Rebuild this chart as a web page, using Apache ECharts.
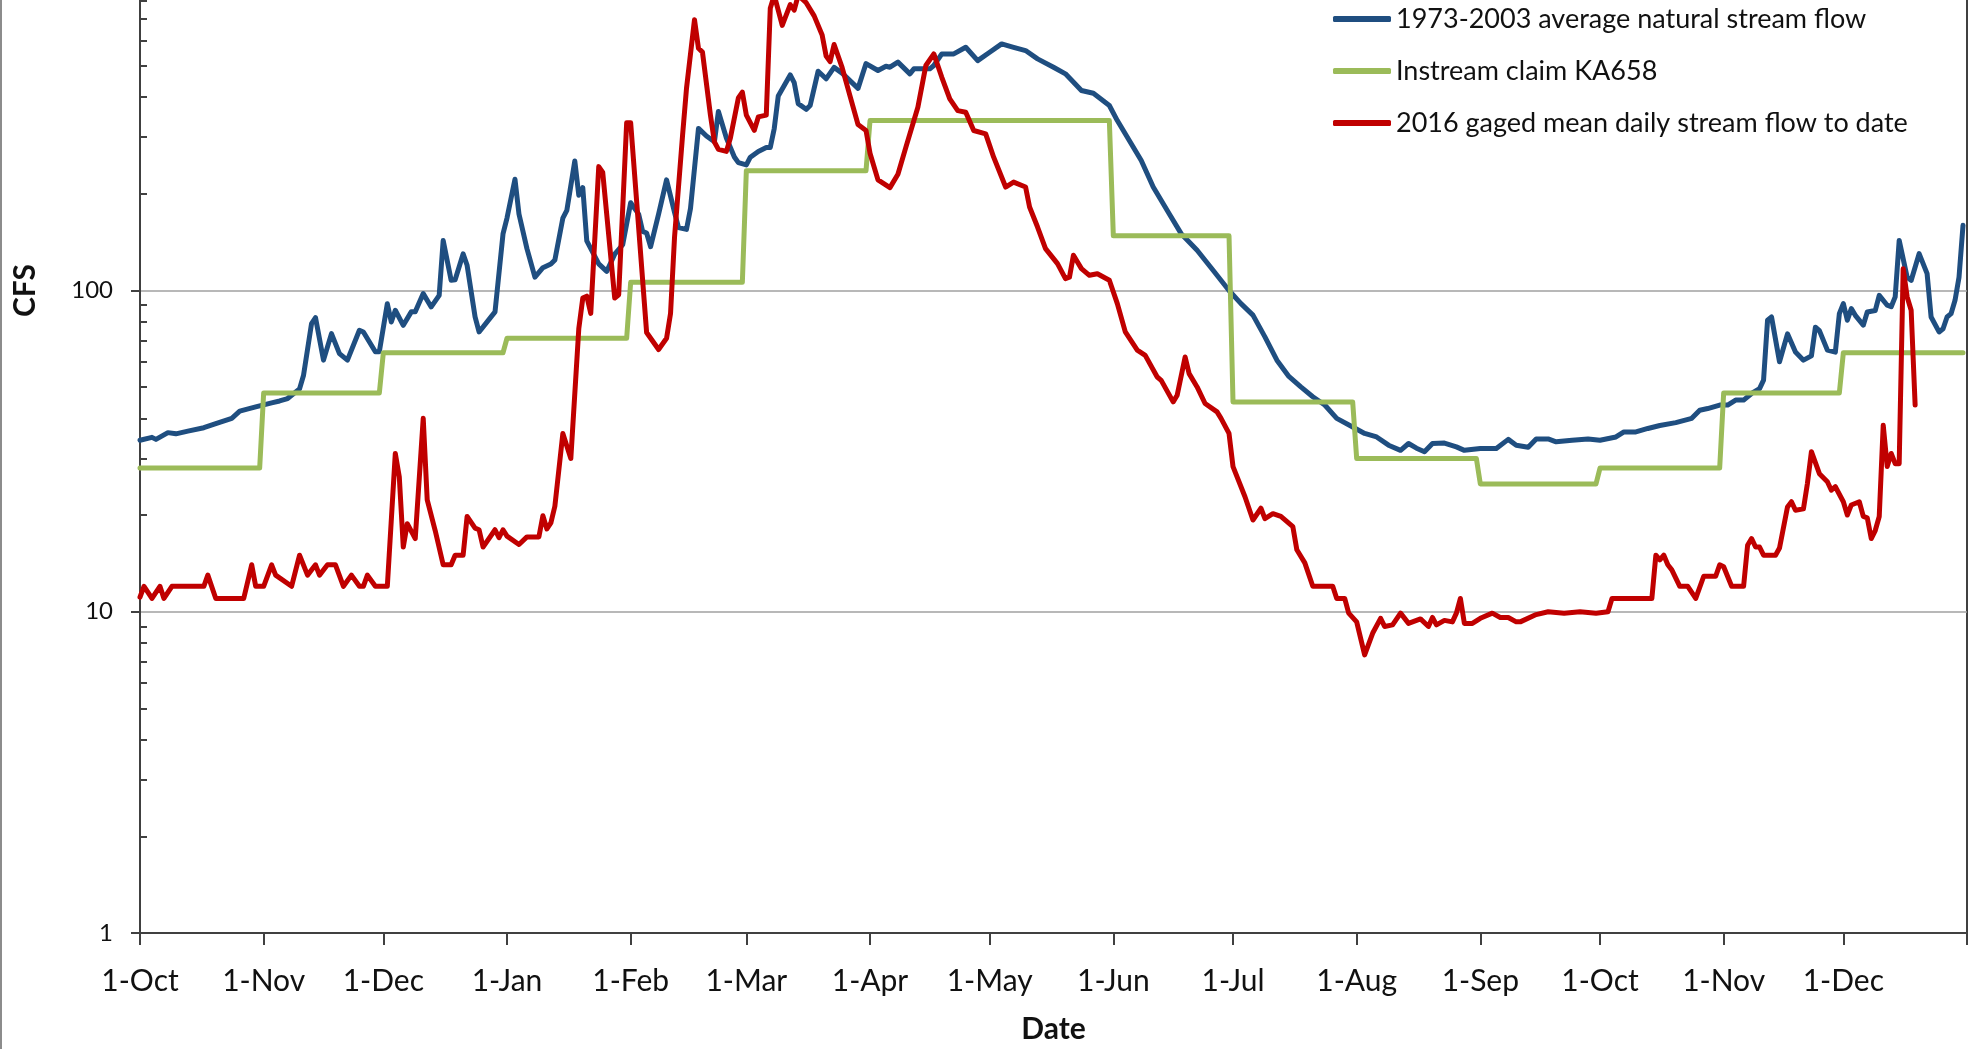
<!DOCTYPE html>
<html>
<head>
<meta charset="utf-8">
<script src="https://cdn.jsdelivr.net/npm/echarts@6/dist/echarts.min.js"></script>
<style>
  html, body { margin: 0; padding: 0; background: #ffffff; }
  #wrap { width: 1970px; height: 1049px; background: #ffffff; box-shadow: inset 2px 0 0 #8c8c8c; }
  #chart { width: 1970px; height: 1049px; }
</style>
</head>
<body>
<div id="wrap"><div id="chart"></div></div>
<script>
// Day offsets counted from 1-Oct-2015
const monthStartDays = [0, 31, 61, 92, 123, 152, 183, 213, 244, 274, 305, 336, 366, 397, 427, 458];
const monthLabels = ['1-Oct', '1-Nov', '1-Dec', '1-Jan', '1-Feb', '1-Mar', '1-Apr', '1-May', '1-Jun', '1-Jul', '1-Aug', '1-Sep', '1-Oct', '1-Nov', '1-Dec', '1-Jan'];
const minorTickMultipliers = [2, 3, 4, 5, 6, 7, 8, 9];
const decades = [1, 10, 100, 1000];

const seriesNames = ['1973-2003 average natural stream flow', 'Instream claim KA658', '2016 gaged mean daily stream flow to date'];

// 1973-2003 average natural stream flow (CFS)
const blueDays = [0,3,4,7,9,12,16,19,23,25,29,33,35,37,40,41,43,44,46,48,50,52,55,56,59,60,62,63,64,66,68,69,71,73,75,76,78,79,81,82,84,85,88,89,91,92,94,95,97,99,101,103,104,106,107,109,110,111,112,115,117,119,121,123,125,126,127,128,130,132,134,135,137,138,140,142,144,145,147,149,150,152,153,155,157,158,159,160,163,164,165,167,168,170,172,174,176,180,182,185,187,188,190,193,194,198,199,201,204,207,210,213,216,219,222,225,229,232,236,239,243,245,248,251,254,258,261,265,269,273,276,279,282,285,288,291,294,297,300,304,307,310,313,316,318,320,322,324,327,330,332,336,340,343,345,348,350,353,355,359,363,366,370,372,375,378,381,385,389,391,393,396,398,400,402,404,406,407,408,409,411,413,415,417,419,420,421,423,425,426,427,428,429,430,432,433,435,436,438,439,440,441,443,444,446,448,449,451,452,453,454,455,456,457];
const blueCfs = [34.2,34.9,34.4,36.1,35.8,36.5,37.4,38.5,40,42.1,43.4,44.7,45.3,46.1,49.4,54.5,78.9,82.3,60.7,73.4,63.6,60.7,75.2,74.3,64.5,64.5,91,79.8,86.8,77.9,85.8,85.8,97.8,88.9,96.6,143,107.6,108,130,119.8,82.8,74.3,82.8,85.8,150,168,222,173,135,110,117.8,121,124.5,168,177.6,253,198,209,142.7,121,114.7,129.7,138.8,187.6,172.8,152.8,151,136.9,172.8,221,175,157,155,180,319.6,302.6,290.4,361,298.5,260.4,250,246,260,271,278.7,278.7,319.6,403,468.7,443.6,381.7,366.4,376.5,481.6,456,495,475,425.8,508.6,484,499,495.5,514,472.5,489.8,489.8,501.6,545,545,571.6,519.6,551.6,585.6,571.6,558.3,526,495.5,472.5,419.2,411,376.5,338,293,254,209.9,173.4,150.3,133.4,115.6,100,91,83.8,71.7,60.7,54,50.1,46.7,44,40,37.6,35.9,35,33,31.8,33.4,32.3,31.5,33.4,33.5,32.6,31.8,32.2,32.2,34.4,33,32.5,34.5,34.5,33.8,34.2,34.5,34.2,35,36.3,36.3,37.2,38,38.8,40,42.4,42.9,44,44,45.6,45.6,47.8,49.5,52.6,80.8,82.7,60,73.3,64.3,60.7,62.6,76.9,75,65.2,64.3,84.7,91,80.8,87.8,83.7,78,85.7,86.6,96.6,90,89,95.5,143.2,110,107.5,130.2,112.8,82.7,74.3,76,82.7,84.7,93.2,110,159.5];

// Instream claim KA658 (CFS): value from each start day
const claimStartDays = [0, 31, 61, 92, 123, 152, 183, 244, 274, 305, 336, 366, 397, 427];
const claimCfs = [28, 48, 64, 71, 106, 236, 338, 148, 45, 30, 25, 28, 48, 64];
const claimEndDay = 457;

// 2016 gaged mean daily stream flow to date (CFS)
const redDays = [0,1,3,5,6,8,16,17,19,26,28,29,31,33,34,38,40,42,44,45,47,49,51,53,55,56,57,59,62,64,65,66,67,69,71,72,74,76,78,79,81,82,84,85,86,89,90,91,92,95,97,100,101,102,103,104,106,108,110,111,112,113,115,116,119,120,122,123,127,130,132,133,134,136,137,139,140,141,143,144,145,147,148,150,151,152,154,155,157,158,159,161,163,164,165,167,169,171,172,173,174,176,178,180,182,183,185,188,190,192,195,197,199,201,203,205,207,209,212,214,217,219,222,223,225,227,230,232,233,234,236,238,240,243,245,247,250,252,255,256,259,260,262,263,265,267,270,271,273,274,277,279,281,282,284,286,289,290,292,294,299,300,302,303,305,307,309,311,312,314,316,318,320,321,323,324,325,327,329,330,331,332,334,336,339,341,343,345,346,350,353,357,361,365,368,369,379,380,381,382,383,384,386,388,390,392,395,396,397,399,402,403,404,405,406,407,410,411,413,414,415,417,418,419,421,423,424,425,427,428,429,431,432,433,434,435,436,437,438,439,440,441,442,443,444,445];
const redCfs = [11.1,12,11,12,11,12,12,13,11,11,14,12,12,14,13,12,15,13,14,13,14,14,12,13,12,12,13,12,12,31.1,26.3,15.9,18.8,16.9,40,22.3,17.9,14,14,15,15,19.8,18.2,18,15.9,18,17,18,17.2,16.2,17.1,17.1,19.9,18.1,18.9,21.3,35.9,30,76.1,94.7,96,84.9,243,233,94.7,97,333,333,74,65.5,71,84.9,146.6,302.6,425.8,696.6,567.5,552,351.6,290,275,271,298.5,397.7,414.4,351.6,315.2,347,351.6,755.8,830,668.7,776,746,830,787,715.8,624.6,537,515.7,583,495,403,328.5,315,267.6,221,209,230,279.5,372,501.7,545,461,395,363,359,314.8,307.4,260,209.9,217.5,209.9,182,157.6,135,121.2,108.9,110,128.7,117,111.5,112.8,107.6,91,74.3,65.2,62.8,53.8,52.5,45,47.2,62.1,55.1,50.1,44.5,41.9,40,35.9,28.3,22.8,19.3,21,19.5,20.2,19.8,18.4,15.6,14.2,12,12,11,11,9.9,9.3,7.34,8.57,9.54,9,9.1,9.9,9.2,9.4,9.5,9,9.6,9.1,9.4,9.3,9.9,11,9.2,9.2,9.54,9.9,9.6,9.6,9.3,9.3,9.8,10,9.9,10,9.9,10,11,11,15,14.5,15,14,13.5,12,12,11,12.9,12.9,14,13.8,12,12,16.1,16.9,15.9,15.9,15,15,15.8,21.2,22,20.7,20.9,25.1,31.5,26.9,25.4,23.9,24.5,22,20,21.5,22,19.8,19.6,16.9,17.9,19.8,38.1,28.3,31.1,28.9,28.9,116.9,95.5,86.8,44];

// ---- build series data from the arrays ----
const pair = (xs, ys) => xs.map((d, i) => [d, ys[i]]);
const blueData = pair(blueDays, blueCfs);
const redData = pair(redDays, redCfs);
const claimData = [];
claimStartDays.forEach((d, i) => {
  const end = i < claimStartDays.length - 1 ? claimStartDays[i + 1] - 1 : claimEndDay;
  claimData.push([d, claimCfs[i]]);
  claimData.push([end, claimCfs[i]]);
});
const minorTicks = [];
decades.forEach(dec => minorTickMultipliers.forEach(m => minorTicks.push(m * dec)));

const FONT = 'Lato, "Open Sans", sans-serif';
const AXIS_COLOR = '#404040';
const TEXT_COLOR = '#111111';
const LINE_W = 5;

const chart = echarts.init(document.getElementById('chart'), null, { renderer: 'canvas' });
chart.setOption({
  animation: false,
  backgroundColor: 'transparent',
  textStyle: { fontFamily: FONT },
  grid: {
    left: 140, right: 3, top: -352, bottom: 116,
    show: true, borderColor: AXIS_COLOR, borderWidth: 2, backgroundColor: 'transparent',
    containLabel: false, outerBoundsMode: 'none'
  },
  legend: {
    orient: 'vertical', left: 1328, top: -1,
    icon: 'roundRect',
    itemWidth: 58, itemHeight: 6, itemGap: 22,
    textStyle: { fontSize: 27, fontFamily: FONT, color: TEXT_COLOR, lineHeight: 30 },
    data: seriesNames
  },
  xAxis: {
    type: 'value', min: 0, max: monthStartDays[monthStartDays.length - 1],
    name: 'Date', nameLocation: 'middle', nameGap: 81, nameMoveOverlap: false,
    nameTextStyle: { fontSize: 30, fontWeight: 'bold', fontFamily: FONT, color: TEXT_COLOR },
    axisLine: { show: true, lineStyle: { color: AXIS_COLOR, width: 2 } },
    axisTick: { show: true, length: 12, customValues: monthStartDays, lineStyle: { color: AXIS_COLOR, width: 2 } },
    axisLabel: {
      show: true, margin: 33, fontSize: 30, fontFamily: FONT, color: TEXT_COLOR,
      customValues: monthStartDays.slice(0, monthStartDays.length - 1),
      formatter: v => monthLabels[monthStartDays.indexOf(v)]
    },
    splitLine: { show: false }
  },
  yAxis: [
    {
      type: 'log', logBase: 10, min: 1, max: 10000,
      name: 'CFS', nameLocation: 'middle', nameGap: 100, nameMoveOverlap: false,
      nameTextStyle: { fontSize: 30, fontWeight: 'bold', fontFamily: FONT, color: TEXT_COLOR },
      axisLine: { show: true, lineStyle: { color: AXIS_COLOR, width: 2 } },
      axisTick: { show: true, inside: false, length: 9, lineStyle: { color: AXIS_COLOR, width: 2 } },
      axisLabel: { margin: 27, fontSize: 24, fontFamily: FONT, color: TEXT_COLOR, formatter: v => String(v) },
      splitLine: { show: true, lineStyle: { color: '#a0a0a0', width: 1.5 } }
    },
    {
      type: 'log', logBase: 10, min: 1, max: 10000, position: 'left',
      axisLine: { show: false },
      axisTick: { show: true, inside: true, length: 7, customValues: minorTicks, lineStyle: { color: AXIS_COLOR, width: 2 } },
      axisLabel: { show: false },
      splitLine: { show: false }
    }
  ],
  series: [
    {
      name: seriesNames[0], type: 'line', data: blueData, yAxisIndex: 0,
      symbol: 'none', showSymbol: false, smooth: false,
      lineStyle: { color: '#1F4E80', width: LINE_W, join: 'round', cap: 'round' },
      itemStyle: { color: '#1F4E80' }, z: 2
    },
    {
      name: seriesNames[1], type: 'line', data: claimData, yAxisIndex: 0,
      symbol: 'none', showSymbol: false, smooth: false,
      lineStyle: { color: '#9BBB59', width: LINE_W, join: 'round', cap: 'round' },
      itemStyle: { color: '#9BBB59' }, z: 3
    },
    {
      name: seriesNames[2], type: 'line', data: redData, yAxisIndex: 0,
      symbol: 'none', showSymbol: false, smooth: false,
      lineStyle: { color: '#C00000', width: LINE_W, join: 'round', cap: 'round' },
      itemStyle: { color: '#C00000' }, z: 4
    }
  ]
});
</script>
</body>
</html>
